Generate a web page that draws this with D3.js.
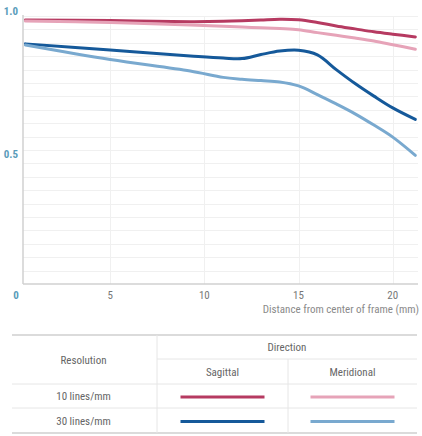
<!DOCTYPE html>
<html>
<head>
<meta charset="utf-8">
<script src="https://d3js.org/d3.v7.min.js"></script>
<style>
  body { margin: 0; background: #fff; }
  svg { display: block; font-family: "Liberation Sans Narrow", "Roboto Condensed", Roboto, "DejaVu Sans Condensed", sans-serif; }
  .grid line { stroke: #f0f0f0; stroke-width: 1px; }
  .axis-line { stroke: #d0d0d0; stroke-width: 1.5px; }
  .ylab { fill: #5a9cba; font-weight: bold; font-size: 11px; }
  .xlab { fill: #777; font-size: 11px; }
  .xtitle { fill: #8a8a8a; font-size: 11px; }
  .tbl text { fill: #666; font-size: 11px; text-anchor: middle; }
  .tbl line { stroke: #e6e6e6; stroke-width: 1px; }
  .tbl .edge { stroke: #cfcfcf; stroke-width: 1.5px; }
</style>
</head>
<body>
<div id="chart"></div>
<script>
// MTF chart data

// distance from center of frame (mm)
const distance = [0.5, 5, 9.25, 11, 12, 13, 14, 15, 16, 17, 18, 19, 20, 21.2];

// contrast values for each curve
const sagittal10 = [0.985, 0.983, 0.979, 0.980, 0.982, 0.985, 0.988, 0.986, 0.976, 0.963, 0.952, 0.941, 0.932, 0.922];
const meridional10 = [0.981, 0.976, 0.966, 0.962, 0.959, 0.956, 0.953, 0.949, 0.938, 0.928, 0.918, 0.907, 0.893, 0.876];
const sagittal30 = [0.896, 0.873, 0.851, 0.843, 0.841, 0.856, 0.869, 0.872, 0.855, 0.800, 0.748, 0.701, 0.657, 0.614];
const meridional30 = [0.892, 0.838, 0.795, 0.771, 0.764, 0.759, 0.754, 0.739, 0.707, 0.672, 0.635, 0.593, 0.548, 0.480];

const xTicks = [5, 10, 15, 20];
const yTicks = [1.0, 0.5];
const yGrid = d3.range(0.05, 1.0001, 0.05);

const seriesNames = ["sagittal10", "meridional10", "sagittal30", "meridional30"];
const seriesColors = ["#b63a61", "#e6a3b8", "#15599a", "#79a9cf"];
const seriesValues = [sagittal10, meridional10, sagittal30, meridional30];

const resolutions = ["10 lines/mm", "30 lines/mm"];
const directions = ["Sagittal", "Meridional"];

const width = 422, height = 436;
const svg = d3.select("#chart").append("svg")
  .attr("width", width)
  .attr("height", height);

const x = d3.scaleLinear().domain([0, 21.5]).range([16, 421]);
const y = d3.scaleLinear().domain([0, 1]).range([284, 16]);
const plotLeft = 23, plotRight = 418;

// grid
const grid = svg.append("g").attr("class", "grid");
grid.selectAll(".hg").data(yGrid).enter().append("line")
  .attr("class", "hg")
  .attr("x1", plotLeft).attr("x2", plotRight)
  .attr("y1", d => Math.round(y(d)) + 0.5).attr("y2", d => Math.round(y(d)) + 0.5);
grid.selectAll(".vg").data(xTicks).enter().append("line")
  .attr("class", "vg")
  .attr("x1", d => Math.round(x(d)) + 0.5).attr("x2", d => Math.round(x(d)) + 0.5)
  .attr("y1", y(1)).attr("y2", y(0));

// axis lines
svg.append("line").attr("class", "axis-line")
  .attr("x1", plotLeft).attr("x2", plotLeft).attr("y1", y(1) - 1).attr("y2", y(0));
svg.append("line").attr("class", "axis-line")
  .attr("x1", plotLeft).attr("x2", plotRight).attr("y1", y(0)).attr("y2", y(0));

// y labels
svg.selectAll(".ylab").data(yTicks).enter().append("text")
  .attr("class", "ylab")
  .attr("x", 18)
  .attr("y", d => y(d))
  .attr("dy", d => d === 1 ? "-1.5px" : "7.5px")
  .attr("text-anchor", "end")
  .text(d => d.toFixed(1));
svg.append("text").attr("class", "ylab")
  .attr("x", x(0)).attr("y", y(0) + 15)
  .attr("text-anchor", "middle")
  .text("0");

// x labels
svg.selectAll(".xt").data(xTicks).enter().append("text")
  .attr("class", "xlab")
  .attr("x", d => x(d)).attr("y", y(0) + 15)
  .attr("text-anchor", "middle")
  .text(d => d);
svg.append("text").attr("class", "xtitle")
  .attr("x", plotRight + 1).attr("y", y(0) + 29)
  .attr("text-anchor", "end")
  .text("Distance from center of frame (mm)");

// curves
const line = d3.line()
  .x((d, i) => x(distance[i]))
  .y(d => y(d))
  .curve(d3.curveCatmullRom.alpha(0.5));

svg.append("g").selectAll("path")
  .data(seriesValues)
  .enter().append("path")
  .attr("class", (d, i) => seriesNames[i])
  .attr("d", line)
  .attr("fill", "none")
  .attr("stroke", (d, i) => seriesColors[i])
  .attr("stroke-width", 3)
  .attr("stroke-linecap", "round");

// legend table
const tbl = svg.append("g").attr("class", "tbl");
const tLeft = 12, tRight = 417, tTop = 335, tBottom = 433;
const colSplit = 157, dirSplit = 288;
const rowDir = 359, row1 = 384, row2 = 408;

tbl.append("line").attr("class", "edge").attr("x1", tLeft).attr("x2", tRight).attr("y1", tTop).attr("y2", tTop);
tbl.append("line").attr("class", "edge").attr("x1", tLeft).attr("x2", tRight).attr("y1", tBottom).attr("y2", tBottom);
tbl.append("line").attr("x1", colSplit).attr("x2", colSplit).attr("y1", tTop).attr("y2", tBottom);
tbl.append("line").attr("x1", colSplit).attr("x2", tRight).attr("y1", rowDir).attr("y2", rowDir);
tbl.append("line").attr("x1", dirSplit).attr("x2", dirSplit).attr("y1", rowDir).attr("y2", tBottom);
tbl.append("line").attr("x1", tLeft).attr("x2", tRight).attr("y1", row1).attr("y2", row1);
tbl.append("line").attr("x1", tLeft).attr("x2", tRight).attr("y1", row2).attr("y2", row2);

tbl.append("text").attr("x", (tLeft + colSplit) / 2 - 1).attr("y", (tTop + row1) / 2 + 4).text("Resolution");
tbl.append("text").attr("x", (colSplit + tRight) / 2).attr("y", (tTop + rowDir) / 2 + 4).text("Direction");

const colCenters = [(colSplit + dirSplit) / 2, (dirSplit + tRight) / 2];
const rowCenters = [(row1 + row2) / 2, (row2 + tBottom) / 2];

tbl.selectAll(".dir").data(directions).enter().append("text")
  .attr("x", (d, i) => colCenters[i]).attr("y", (rowDir + row1) / 2 + 4)
  .text(d => d);
tbl.selectAll(".res").data(resolutions).enter().append("text")
  .attr("x", (tLeft + colSplit) / 2 - 1).attr("y", (d, i) => rowCenters[i] + 4)
  .text(d => d);

tbl.selectAll(".key").data(seriesNames).enter().append("line")
  .attr("x1", (d, i) => colCenters[i % 2] - 42)
  .attr("x2", (d, i) => colCenters[i % 2] + 42)
  .attr("y1", (d, i) => rowCenters[Math.floor(i / 2)] + 1)
  .attr("y2", (d, i) => rowCenters[Math.floor(i / 2)] + 1)
  .style("stroke", (d, i) => seriesColors[i])
  .style("stroke-width", 3);
</script>
</body>
</html>
